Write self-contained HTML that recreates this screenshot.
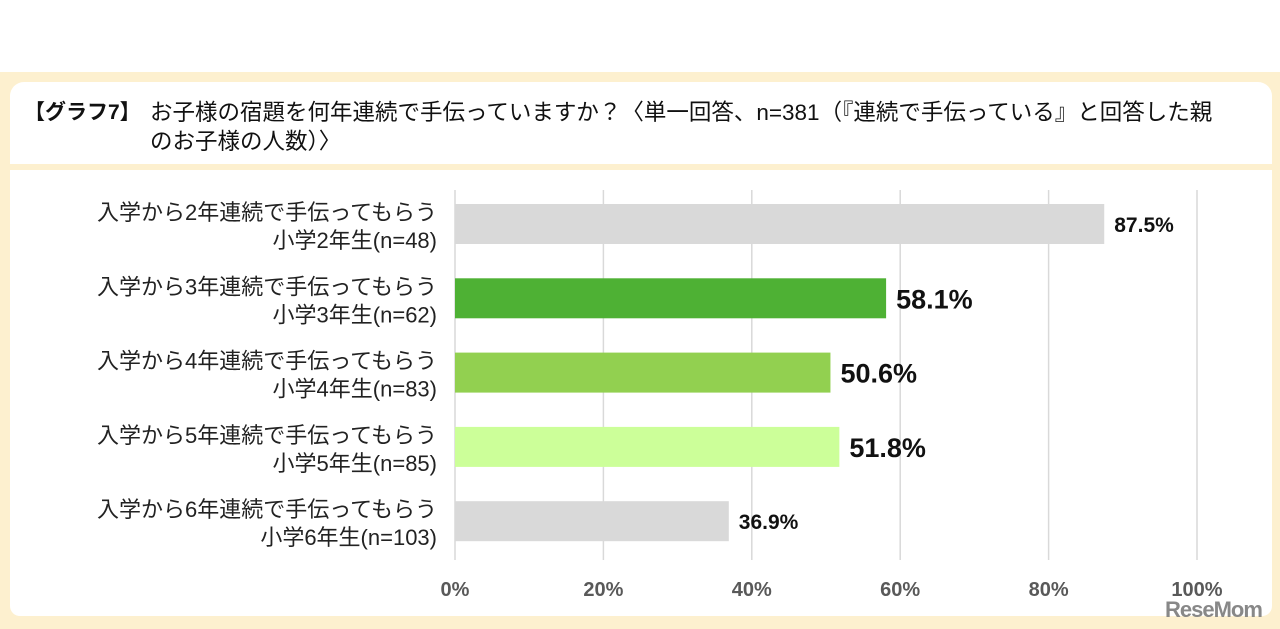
<!DOCTYPE html>
<html><head><meta charset="utf-8"><style>
body{margin:0;width:1280px;height:629px;background:#fff;overflow:hidden;font-family:"Liberation Sans","Noto Sans CJK JP",sans-serif;position:relative}
.outer{position:absolute;left:0;top:72px;width:1280px;height:557px;background:#fdf0cf}
.tbox{position:absolute;left:10px;top:82px;width:1262px;height:82px;background:#fff;border-radius:14px 14px 0 0}
.cbox{position:absolute;left:10px;top:170px;width:1262px;height:446px;background:#fff;border-radius:0 0 10px 10px}
.title{position:absolute;font-size:22.5px;color:#111;line-height:29px;white-space:nowrap}
</style></head><body>
<div class="outer"></div>
<div class="tbox"></div>
<div class="cbox"></div>
<div class="title" style="left:24px;top:98px;font-weight:bold;font-size:21px">【グラフ7】</div>
<div class="title" style="left:150px;top:98px">お子様の宿題を何年連続で手伝っていますか？〈単一回答、n=381（『連続で手伝っている』と回答した親<br>のお子様の人数）〉</div>
<svg id="c" width="1280" height="629" style="position:absolute;left:0;top:0"></svg>
<div style="position:absolute;left:1165px;top:597px;font-size:22px;font-weight:bold;color:#888;letter-spacing:-1px">ReseMom</div>
<script>
const cats1=["入学から2年連続で手伝ってもらう","入学から3年連続で手伝ってもらう","入学から4年連続で手伝ってもらう","入学から5年連続で手伝ってもらう","入学から6年連続で手伝ってもらう"];
const cats2=["小学2年生(n=48)","小学3年生(n=62)","小学4年生(n=83)","小学5年生(n=85)","小学6年生(n=103)"];
const values=[87.5,58.1,50.6,51.8,36.9];
const ticks=[0,20,40,60,80,100];
const colors=["#d9d9d9","#4eb134","#92d050","#ccff99","#d9d9d9"];
const big=[false,true,true,true,false];
const svg=document.getElementById('c');const NS="http://www.w3.org/2000/svg";
const x=v=>455+v*7.42;const y=i=>224+i*74.3;
function mk(t,a){const e=document.createElementNS(NS,t);for(const k in a)e.setAttribute(k,a[k]);svg.appendChild(e);return e;}
ticks.forEach(t=>{
 const l=mk('line',{x1:x(t),x2:x(t),y1:190,y2:560,stroke:'#d9d9d9','stroke-width':1.5});
 
 
 const tx=mk('text',{x:x(t),y:596,'text-anchor':'middle','font-size':20,'font-weight':'bold',fill:'#595959'});
 tx.textContent=t+'%';
 
 
});
values.forEach((v,i)=>{
 const r=mk('rect',{x:x(0),y:y(i)-20,width:x(v)-x(0),height:40,fill:colors[i]});
 
 
 const t=mk('text',{x:x(v)+10,y:y(i)+(big[i]?10:8),'font-size':big[i]?27:21,'font-weight':'bold',fill:'#111'});
 t.textContent=v.toFixed(1)+'%';
 
 
 const a=mk('text',{x:437,y:y(i)-4,'text-anchor':'end','font-size':22,fill:'#222'});
 a.textContent=cats1[i];
 
 
 const b=mk('text',{x:437,y:y(i)+24,'text-anchor':'end','font-size':22,fill:'#222'});
 b.textContent=cats2[i];
 
 
});
</script>
</body></html>
